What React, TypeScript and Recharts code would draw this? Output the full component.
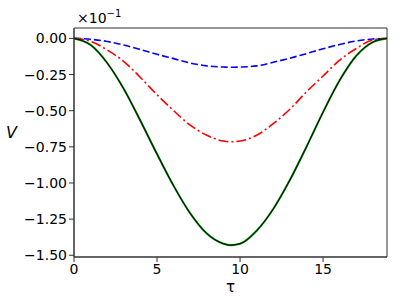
import { LineChart, Line, XAxis, YAxis, ReferenceArea, Label } from "recharts";

// (values are ×10^-1)
const tau = [0, 1, 2, 3, 4, 5, 6, 7, 8, 9, 9.42, 10, 11, 12, 13, 14, 15, 16, 17, 18, 18.85];
const vGreen = [0, -0.045, -0.17, -0.35, -0.57, -0.8, -1.02, -1.21, -1.35, -1.42, -1.43, -1.42, -1.33, -1.18, -0.98, -0.75, -0.51, -0.29, -0.12, -0.025, 0];
const vRed = [0, -0.02, -0.08, -0.16, -0.27, -0.39, -0.5, -0.6, -0.67, -0.71, -0.715, -0.71, -0.67, -0.59, -0.49, -0.37, -0.26, -0.15, -0.07, -0.01, 0];
const vBlue = [0, -0.006, -0.021, -0.046, -0.077, -0.11, -0.14, -0.17, -0.19, -0.198, -0.2, -0.198, -0.19, -0.165, -0.137, -0.105, -0.072, -0.042, -0.018, -0.004, 0];
const xTicks = [0, 5, 10, 15];
const yTicks = [0, -0.25, -0.5, -0.75, -1.0, -1.25, -1.5];

const data = tau.map((t, i) => ({ tau: t, green: vGreen[i], red: vRed[i], blue: vBlue[i] }));

const FONT = "DejaVu Sans, sans-serif";
const fmtY = (v: number) => (v < 0 ? "\u2212" + Math.abs(v).toFixed(2) : v.toFixed(2));

export default function App() {
  return (
    <div style={{ position: "absolute", left: 0, top: 0, width: 407, height: 305, background: "#fff", fontFamily: FONT }}>
      <LineChart width={407} height={305} data={data} margin={{ top: 28, right: 20, left: 0, bottom: 0 }}>
        <XAxis
          dataKey="tau"
          type="number"
          domain={[0, 18.85]}
          ticks={xTicks}
          allowDataOverflow
          tickSize={5}
          tickMargin={2}
          height={48}
          stroke="#333"
          tick={{ fill: "#000", fontSize: 14, fontFamily: FONT }}
        >
          <Label value="τ" position="insideBottom" offset={13} style={{ fill: "#000", fontSize: 15, fontFamily: FONT }} />
        </XAxis>
        <YAxis
          type="number"
          domain={[-1.512, 0.072]}
          ticks={yTicks}
          allowDataOverflow
          tickFormatter={fmtY}
          tickSize={5}
          tickMargin={2}
          width={74}
          stroke="#333"
          tick={{ fill: "#000", fontSize: 14, fontFamily: FONT }}
        />
        <ReferenceArea x1={0} x2={18.85} y1={-1.512} y2={0.072} fill="none" stroke="#333" strokeWidth={1} ifOverflow="visible" />
        <Line type="monotone" dataKey="blue" stroke="#0000ff" strokeWidth={1.6} strokeDasharray="7 3" dot={false} isAnimationActive={false} />
        <Line type="monotone" dataKey="red" stroke="#ff0000" strokeWidth={1.6} strokeDasharray="10 3 2 3" dot={false} isAnimationActive={false} />
        <Line type="monotone" dataKey="green" stroke="#008000" strokeWidth={2} dot={false} isAnimationActive={false} />
        <Line type="monotone" dataKey="green" stroke="#000" strokeWidth={0.9} dot={false} isAnimationActive={false} />
      </LineChart>
      <div style={{ position: "absolute", left: 6, top: 123, fontSize: 16, fontStyle: "italic" }}>V</div>
      <div style={{ position: "absolute", left: 77, top: 8, fontSize: 14, whiteSpace: "nowrap" }}>
        ×10<sup style={{ fontSize: 10, verticalAlign: "0.6em" }}>−1</sup>
      </div>
    </div>
  );
}
